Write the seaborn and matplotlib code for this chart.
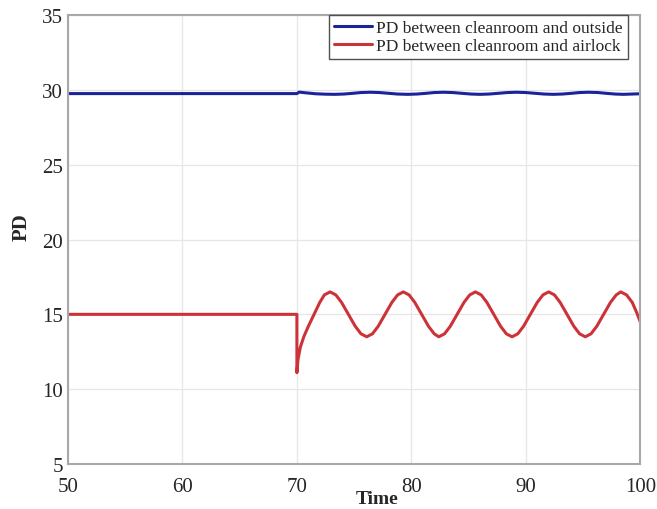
import numpy as np
import pandas as pd
import matplotlib
matplotlib.use('Agg')
import matplotlib.pyplot as plt
import seaborn as sns

# values
outside_time = [50.0, 70.0, 70.2, 70.8, 71.6, 72.5, 73.3, 74.1, 74.9, 75.6, 76.4, 77.2,
                78.0, 78.8, 79.7, 80.5, 81.3, 82.0, 82.8, 83.6, 84.4, 85.2, 86.0,
                86.8, 87.6, 88.4, 89.2, 90.0, 90.8, 91.6, 92.4, 93.2, 94.0, 94.7,
                95.5, 96.3, 97.0, 97.8, 98.5, 99.3, 100.0]
outside_pd = [29.75, 29.75, 29.85, 29.8, 29.74, 29.71, 29.70, 29.72, 29.77, 29.82, 29.84, 29.82,
              29.77, 29.72, 29.70, 29.72, 29.77, 29.82, 29.84, 29.82, 29.77, 29.72, 29.70,
              29.72, 29.77, 29.82, 29.84, 29.82, 29.77, 29.72, 29.70, 29.72, 29.77, 29.82,
              29.84, 29.82, 29.77, 29.72, 29.70, 29.72, 29.74]

airlock_time = [50.0, 70.0, 70.0, 70.1, 70.3, 70.6, 71.0, 71.5, 72.0, 72.4, 72.9, 73.4,
                73.9, 74.5, 75.1, 75.6, 76.1, 76.6, 77.1, 77.7, 78.3, 78.8, 79.3,
                79.8, 80.3, 80.9, 81.5, 82.0, 82.4, 82.9, 83.4, 84.0, 84.6, 85.1,
                85.6, 86.1, 86.6, 87.2, 87.8, 88.3, 88.8, 89.3, 89.8, 90.4, 91.0,
                91.5, 92.0, 92.5, 93.0, 93.6, 94.2, 94.7, 95.2, 95.7, 96.2, 96.8,
                97.4, 97.9, 98.3, 98.8, 99.3, 99.7, 100.0]
airlock_pd = [15.0, 15.0, 11.1, 12.0, 12.8, 13.5, 14.2, 15.0, 15.8, 16.3, 16.5, 16.3,
              15.8, 15.0, 14.2, 13.7, 13.5, 13.7, 14.2, 15.0, 15.8, 16.3, 16.5,
              16.3, 15.8, 15.0, 14.2, 13.7, 13.5, 13.7, 14.2, 15.0, 15.8, 16.3,
              16.5, 16.3, 15.8, 15.0, 14.2, 13.7, 13.5, 13.7, 14.2, 15.0, 15.8,
              16.3, 16.5, 16.3, 15.8, 15.0, 14.2, 13.7, 13.5, 13.7, 14.2, 15.0,
              15.8, 16.3, 16.5, 16.3, 15.8, 15.1, 14.5]

series_names = ['PD between cleanroom and outside', 'PD between cleanroom and airlock']
series_colors = ['#1b2399', '#cc3339']

x_ticks = [50, 60, 70, 80, 90, 100]
y_ticks = [5, 10, 15, 20, 25, 30, 35]

df = pd.concat([
    pd.DataFrame({'Time': outside_time, 'PD': outside_pd, 'series': series_names[0]}),
    pd.DataFrame({'Time': airlock_time, 'PD': airlock_pd, 'series': series_names[1]}),
], ignore_index=True)

sns.set_style("whitegrid")
plt.rcParams['font.family'] = ['Liberation Serif', 'DejaVu Serif']

fig = plt.figure(figsize=(6.57, 5.10), dpi=100)
ax = fig.add_axes([0.1035, 0.0882, 0.871, 0.8804])

sns.lineplot(data=df, x='Time', y='PD', hue='series', palette=series_colors,
             sort=False, estimator=None, linewidth=2.2, ax=ax)

ax.set_xlim(50, 100)
ax.set_ylim(5, 35)
ax.set_xticks(x_ticks)
ax.set_yticks(y_ticks)
ax.tick_params(axis='both', direction='in', length=4, color='#808080',
               labelsize=15)
ax.tick_params(axis='x', pad=9)
ax.tick_params(axis='y', pad=3.5)
ax.grid(True, color='#e6e6e6', linewidth=0.9)
for sp in ax.spines.values():
    sp.set_color('#a8a8a8')
    sp.set_linewidth(1.5)

ax.set_xlabel('Time', fontsize=14, fontweight='bold')
ax.xaxis.set_label_coords(0.54, -0.057)
ax.set_ylabel('PD', fontsize=15, fontweight='bold')
ax.yaxis.set_label_coords(-0.064, 0.53)

leg = ax.legend(loc='upper right', bbox_to_anchor=(0.979, 1.0), fontsize=12.5,
                frameon=True, fancybox=False, borderaxespad=0.0,
                handlelength=2.2, handletextpad=0.25,
                borderpad=0.3, labelspacing=0.1)
leg.get_frame().set_edgecolor('#505050')
leg.get_frame().set_linewidth(1.0)
leg.get_frame().set_alpha(1)

fig.savefig('out.png', dpi=100)
plt.close(fig)
